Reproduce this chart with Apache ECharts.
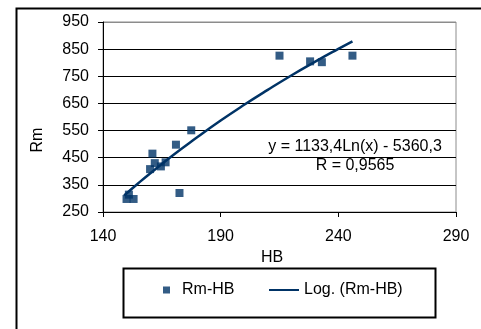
<!DOCTYPE html>
<html>
<head>
    <meta charset="utf-8">
    <script src="https://cdn.jsdelivr.net/npm/echarts@6/dist/echarts.min.js"></script>
</head>
<body style="margin:0;background:#fff;">
    <div id="container" style="width:481px;height:329px;"></div>
    <script type="text/javascript">
        // measured points (HB, Rm)
        var hbValues = [150, 151, 153, 160, 161, 162, 164.6, 166.6, 171, 172.5, 177.5, 215, 228, 233, 246];
        var rmValues = [298, 314, 298, 408, 465, 430, 418, 433, 498, 320, 551, 826, 805, 802, 826];
        // logarithmic trend y = 1133,4Ln(x) - 5360,3
        var trendX = [149, 155, 160, 170, 180, 190, 200, 210, 220, 230, 240, 246];
        var trendY = [311, 356, 392, 461, 525, 587, 645, 700, 753, 803, 851, 879];
        var xTicks = [140, 190, 240, 290];
        var yTicks = [250, 350, 450, 550, 650, 750, 850, 950];

        var font = 'Liberation Sans, Arial, sans-serif';
        var fs = 16;
        var navy = '#003366';

        var scatterData = [];
        for (var i = 0; i < hbValues.length; i++) {
            scatterData.push([hbValues[i], rmValues[i]]);
        }
        var trendData = [];
        for (var j = 0; j < trendX.length; j++) {
            trendData.push([trendX[j], trendY[j]]);
        }

        var gridColors = [];
        for (var k = 0; k < yTicks.length; k++) {
            gridColors.push(k === yTicks.length - 1 ? '#8c8c8c' : '#000');
        }

        var myChart = echarts.init(document.getElementById('container'));
        var option = {
            animation: false,
            textStyle: { fontFamily: font },
            grid: {
                left: 103, right: 25, top: 22, bottom: 117,
                show: true, borderColor: '#8c8c8c', borderWidth: 1
            },
            xAxis: {
                type: 'value',
                min: xTicks[0], max: xTicks[xTicks.length - 1], interval: 50,
                name: 'HB', nameLocation: 'middle', nameGap: 26,
                nameTextStyle: { color: '#000', fontSize: fs, fontFamily: font, padding: [0, 15, 0, 0] },
                axisLine: { lineStyle: { color: '#000', width: 1 } },
                axisTick: { show: true, inside: false, length: 5, lineStyle: { color: '#000' } },
                axisLabel: { color: '#000', fontSize: fs, fontFamily: font, margin: 17 },
                splitLine: { show: false }
            },
            yAxis: {
                type: 'value',
                min: yTicks[0], max: yTicks[yTicks.length - 1], interval: 100,
                name: 'Rm', nameLocation: 'middle', nameGap: 57,
                nameTextStyle: { color: '#000', fontSize: fs, fontFamily: font, padding: [0, 46, 0, 0] },
                axisLine: { show: true, lineStyle: { color: '#000', width: 1 } },
                axisTick: { show: true, inside: false, length: 5, lineStyle: { color: '#000' } },
                axisLabel: { color: '#000', fontSize: fs, fontFamily: font, margin: 14 },
                splitLine: { show: true, lineStyle: { color: gridColors, width: 1 } }
            },
            legend: [{
                data: ['Rm-HB'],
                left: 163, top: 282, padding: 0,
                icon: 'rect', itemWidth: 7, itemHeight: 7,
                textStyle: { color: '#000', fontSize: fs, fontFamily: font, padding: [0, 0, 0, 7] }
            }, {
                data: ['Log. (Rm-HB)'],
                left: 269, top: 282, padding: 0,
                icon: 'rect', itemWidth: 30, itemHeight: 2,
                textStyle: { color: '#000', fontSize: fs, fontFamily: font }
            }],
            graphic: [{
                type: 'rect', left: 14, top: 6, silent: true,
                shape: { width: 600, height: 500 },
                style: { fill: 'none', stroke: '#000', lineWidth: 2 }
            }, {
                type: 'rect', left: 121, top: 266, silent: true,
                shape: { width: 312, height: 49 },
                style: { fill: 'none', stroke: '#000', lineWidth: 2 }
            }, {
                type: 'text', x: 355, y: 147, silent: true,
                style: { text: 'y = 1133,4Ln(x) - 5360,3', align: 'center', verticalAlign: 'middle', fill: '#000', font: fs + 'px ' + font }
            }, {
                type: 'text', x: 355, y: 166, silent: true,
                style: { text: 'R = 0,9565', align: 'center', verticalAlign: 'middle', fill: '#000', font: fs + 'px ' + font }
            }],
            series: [{
                name: 'Rm-HB',
                type: 'scatter',
                symbol: 'rect',
                symbolSize: 8,
                itemStyle: { color: navy },
                data: scatterData,
                z: 3
            }, {
                name: 'Log. (Rm-HB)',
                type: 'line',
                smooth: true,
                showSymbol: false,
                lineStyle: { color: navy, width: 2.5 },
                itemStyle: { color: navy },
                data: trendData,
                z: 2
            }]
        };
        myChart.setOption(option);
    </script>
</body>
</html>
